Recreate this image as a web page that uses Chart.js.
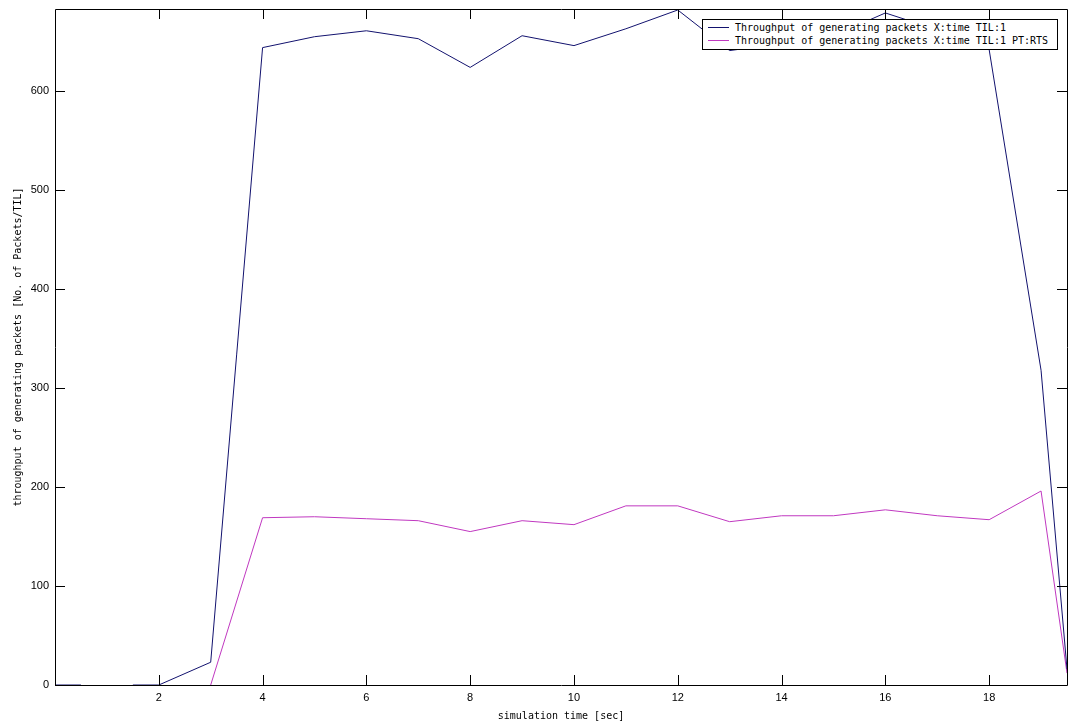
<!DOCTYPE html>
<html>
<head>
<meta charset="utf-8">
<script src="https://cdn.jsdelivr.net/npm/chart.js@4/dist/chart.umd.min.js"></script>
<style>
  html, body { margin: 0; padding: 0; background: #fff; }
  #wrap { position: relative; width: 1081px; height: 727px; }
  #legend {
    position: absolute; left: 702px; top: 19px; width: 354px; height: 29px;
    border: 1px solid #000; background: #fff;
    font: 10px "DejaVu Sans Mono", monospace; color: #000;
  }
  #legend div { position: absolute; left: 0; height: 13px; line-height: 13px; white-space: nowrap; }
  #legend span.line { position: absolute; left: 5px; top: 6px; width: 21px; height: 1px; }
  #legend span.txt { position: absolute; left: 32px; top: 0; }
</style>
</head>
<body>
<div id="wrap">
  <canvas id="chart" width="1081" height="727"></canvas>
  <div id="legend"></div>
</div>
<script>
const blueTimes = [0, 0.5, 1, 1.5, 2, 3, 4, 5, 6, 7, 8, 9, 10, 11, 12, 13, 14, 15, 16, 17, 18, 19, 19.5];
const blueValues = [0, 0, null, 0, 0, 23, 644, 655, 661, 653, 624, 656, 646, 663, 682, 641, 648, 656, 679, 662, 642, 318, 16];
const pinkTimes = [3, 4, 5, 6, 7, 8, 9, 10, 11, 12, 13, 14, 15, 16, 17, 18, 19, 19.5];
const pinkValues = [0, 169, 170, 168, 166, 155, 166, 162, 181, 181, 165, 171, 171, 177, 171, 167, 196, 12];
const xTicks = [2, 4, 6, 8, 10, 12, 14, 16, 18];
const yTicks = [0, 100, 200, 300, 400, 500, 600];
const seriesNames = [
  "Throughput of generating packets X:time TIL:1",
  "Throughput of generating packets X:time TIL:1 PT:RTS",
];
const seriesColors = ["#12126e", "#c038c0"];

const toPoints = (xs, ys) => xs.map((x, i) => ({ x: x, y: ys[i] }));

// frame plus inward tick marks on all four sides
const framePlugin = {
  id: "frame",
  afterDatasetsDraw(chart) {
    const { ctx, chartArea: a, scales } = chart;
    ctx.save();
    ctx.strokeStyle = "#000";
    ctx.lineWidth = 1;
    ctx.beginPath();
    ctx.rect(a.left + 0.5, a.top + 0.5, a.right - a.left, a.bottom - a.top);
    xTicks.forEach((t) => {
      const px = Math.round(scales.x.getPixelForValue(t)) + 0.5;
      ctx.moveTo(px, a.bottom);
      ctx.lineTo(px, a.bottom - 10);
      ctx.moveTo(px, a.top);
      ctx.lineTo(px, a.top + 10);
    });
    yTicks.forEach((t) => {
      const py = Math.round(scales.y.getPixelForValue(t)) + 0.5;
      ctx.moveTo(a.left, py);
      ctx.lineTo(a.left + 10, py);
      ctx.moveTo(a.right, py);
      ctx.lineTo(a.right - 10, py);
    });
    ctx.stroke();
    ctx.restore();
  },
};

new Chart(document.getElementById("chart").getContext("2d"), {
  type: "line",
  data: {
    datasets: [
      {
        label: seriesNames[0],
        data: toPoints(blueTimes, blueValues),
        borderColor: seriesColors[0],
        borderWidth: 1,
        pointRadius: 0,
        spanGaps: false,
        tension: 0,
      },
      {
        label: seriesNames[1],
        data: toPoints(pinkTimes, pinkValues),
        borderColor: seriesColors[1],
        borderWidth: 1,
        pointRadius: 0,
        tension: 0,
      },
    ],
  },
  options: {
    responsive: false,
    animation: false,
    layout: { padding: { top: 9, right: 14, left: 0, bottom: 0 } },
    plugins: { legend: { display: false }, tooltip: { enabled: false } },
    scales: {
      x: {
        type: "linear",
        min: 0,
        max: 19.5,
        afterBuildTicks: (s) => { s.ticks = xTicks.map((v) => ({ value: v })); },
        afterFit: (s) => { s.height = 42; s.paddingLeft = 0; s.paddingRight = 0; },
        grid: { display: false, tickLength: 0 },
        border: { display: false },
        ticks: {
          padding: 6,
          color: "#000",
          font: { family: "Liberation Sans", size: 11 },
          maxRotation: 0,
        },
        title: {
          display: true,
          text: "simulation time [sec]",
          color: "#000",
          font: { family: "DejaVu Sans Mono", size: 10 },
          padding: { top: 5, bottom: 5 },
        },
      },
      y: {
        min: 0,
        max: 683,
        afterBuildTicks: (s) => { s.ticks = yTicks.map((v) => ({ value: v })); },
        afterFit: (s) => { s.width = 55; s.paddingTop = 0; s.paddingBottom = 0; },
        grid: { display: false, tickLength: 0 },
        border: { display: false },
        ticks: {
          padding: 6,
          color: "#000",
          font: { family: "Liberation Sans", size: 11 },
        },
        title: {
          display: true,
          text: "throughput of generating packets [No. of Packets/TIL]",
          color: "#000",
          font: { family: "DejaVu Sans Mono", size: 10 },
          padding: { top: 12, bottom: 0 },
        },
      },
    },
  },
  plugins: [framePlugin],
});

const legend = document.getElementById("legend");
seriesNames.forEach((name, i) => {
  const row = document.createElement("div");
  row.style.top = (1 + i * 13) + "px";
  row.innerHTML = '<span class="line" style="background:' + seriesColors[i] + '"></span><span class="txt"></span>';
  row.querySelector(".txt").textContent = name;
  legend.appendChild(row);
});
</script>
</body>
</html>
